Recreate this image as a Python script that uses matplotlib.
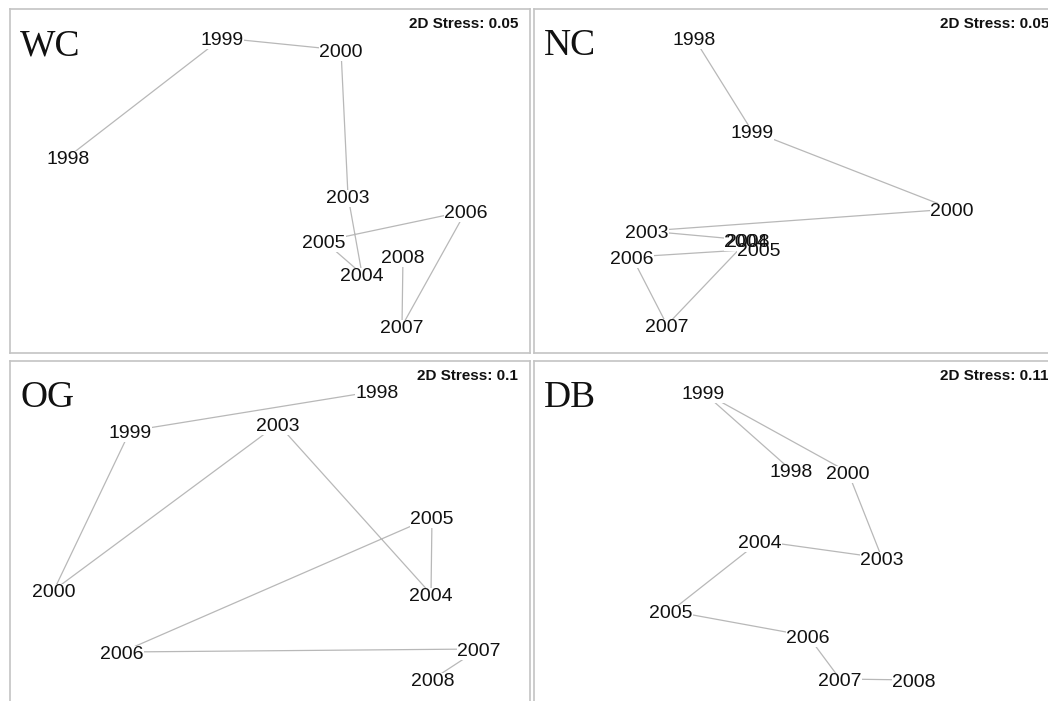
import matplotlib.pyplot as plt
from matplotlib.transforms import offset_copy

plt.rcParams['font.family'] = ['Liberation Sans', 'DejaVu Sans']

# Year labels of each nMDS ordination, joined in time order
years = ["1998", "1999", "2000", "2003", "2004", "2005", "2006", "2007", "2008"]

# Ordination positions read per site (x to the right, y downward, panel units)
wc_x = [58, 212, 331, 338, 352, 314, 456, 392, 393]
wc_y = [148, 29, 41, 187, 265, 232, 202, 317, 247]

nc_x = [160, 218, 418, 113, 212, 225, 98, 133, 214]
nc_y = [29, 122, 200, 222, 231, 240, 248, 316, 231]

og_x = [367, 120, 44, 268, 421, 422, 112, 469, 423]
og_y = [30, 70, 229, 63, 233, 156, 291, 288, 318]

db_x = [257, 169, 314, 348, 226, 137, 274, 306, 380]
db_y = [109, 31, 111, 197, 180, 250, 275, 318, 319]

sites = ["WC", "NC", "OG", "DB"]
stress = ["0.05", "0.05", "0.1", "0.11"]

W, H = 1048, 701
PW, PH = 520, 344  # panel size in pixels

fig = plt.figure(figsize=(W / 100, H / 100), dpi=100)

# panel top-left corners in pixels
corners = [(10, 9), (534, 9), (10, 361), (534, 361)]
xs = [wc_x, nc_x, og_x, db_x]
ys = [wc_y, nc_y, og_y, db_y]
stress_x = [508, 515, 508, 515]

for i, site in enumerate(sites):
    left, top = corners[i]
    ax = fig.add_axes([left / W, 1 - (top + PH) / H, PW / W, PH / H])
    ax.set_xlim(0, PW)
    ax.set_ylim(PH, 0)
    ax.set_xticks([])
    ax.set_yticks([])
    for sp in ax.spines.values():
        sp.set_color('#c4c4c4')
        sp.set_linewidth(1.2)

    x, y = xs[i], ys[i]
    ax.plot(x, y, color='#b8b8b8', lw=0.9, zorder=1, clip_on=False)

    # baseline sits half a digit height below the point
    tr = offset_copy(ax.transData, fig=fig, y=-5.0, units='points')

    # white patches under the labels so the path stops at the text
    for xi, yi, yr in zip(x, y, years):
        ax.text(xi, yi, yr, fontsize=14, color='white', ha='center',
                va='baseline', zorder=2, transform=tr,
                bbox=dict(fc='white', ec='none', pad=0.3))
    for xi, yi, yr in zip(x, y, years):
        ax.text(xi, yi, yr, fontsize=14, color='#111111', ha='center',
                va='baseline', zorder=3, transform=tr)

    ax.text(10, 46, site, fontsize=27, family='Liberation Serif',
            ha='left', va='baseline', color='#111111')
    ax.text(stress_x[i], 15, "2D Stress: " + stress[i], fontsize=11,
            fontweight='bold', ha='right', va='center', color='#111111',
            clip_on=False)

fig.savefig("out.png", dpi=100)
